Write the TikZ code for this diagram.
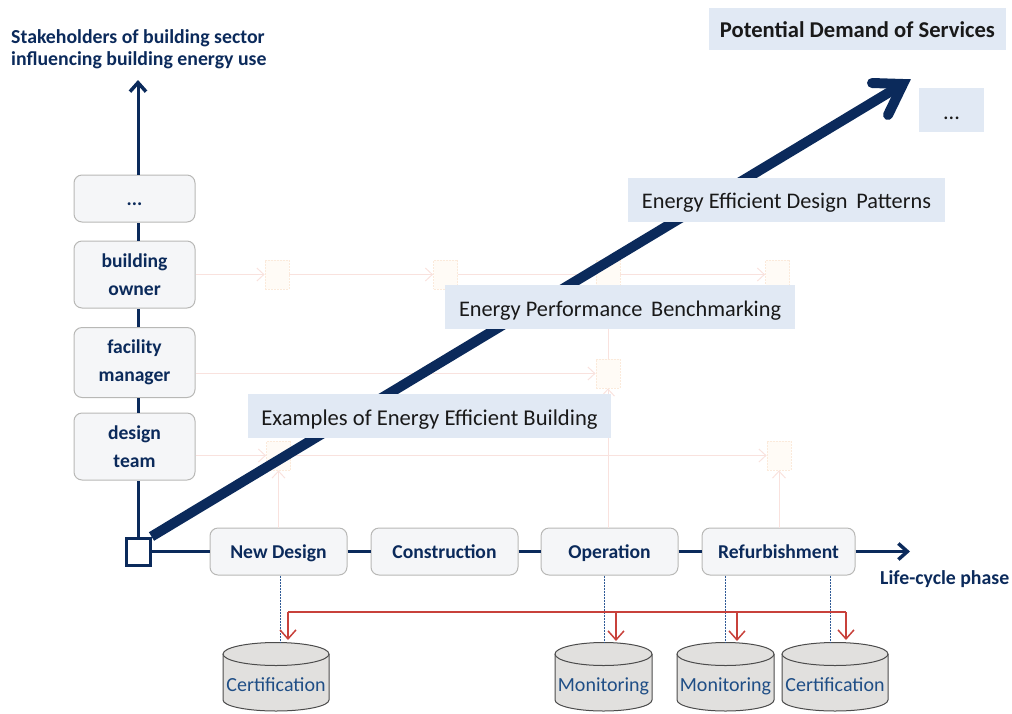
\documentclass[tikz,border=0pt]{standalone}
\usepackage{fontspec}
\setmainfont{Carlito}
\usetikzlibrary{arrows.meta,calc}
\definecolor{navy}{HTML}{0B2A5B}
\definecolor{boxfill}{HTML}{F5F6F8}
\definecolor{boxline}{HTML}{B8B8B6}
\definecolor{bandfill}{HTML}{E1E9F4}
\definecolor{faintline}{HTML}{F9E2DE}
\definecolor{faintfill}{HTML}{FFFBF6}
\definecolor{faintedge}{HTML}{FBEADB}
\definecolor{redline}{HTML}{C8413B}
\definecolor{dotblue}{HTML}{2F5A96}
\definecolor{cylfill}{HTML}{E1E0DE}
\definecolor{cyltext}{HTML}{1F4E86}
\tikzset{
  x=1pt,y=-1pt,
  roundbox/.style={draw=boxline,line width=1pt,fill=boxfill,rounded corners=8pt,inner sep=0pt,
    text=navy,font=\fontsize{19.6}{28}\selectfont\bfseries,align=center},
  oneline/.style={text height=16pt,text depth=3pt},
  band/.style={fill=bandfill,inner sep=0pt,text=black!90,font=\fontsize{22.3}{26}\selectfont,text height=20pt,text depth=2pt},
  faintsq/.style={draw=faintedge,fill=faintfill,line width=.8pt,dash pattern=on 2pt off 1pt,minimum width=24pt,minimum height=29pt,inner sep=0pt},
  faint/.style={draw=faintline,line width=1pt},
  faintarrow/.style={faint,-{Straight Barb[length=7pt,width=13pt]}},
  axis/.style={draw=navy,line width=3pt},
  axisarrow/.style={axis,-{Straight Barb[length=9pt,width=16pt,line width=3.5pt]}},
  title/.style={text=navy,font=\fontsize{19.8}{22}\selectfont\bfseries,inner sep=0pt,align=left},
  cyl/.style={draw=black!70,fill=cylfill,line width=1pt},
  cyllabel/.style={inner sep=0pt,text=cyltext,font=\fontsize{20}{25}\selectfont,text height=16pt,text depth=2pt},
  dotlink/.style={draw=dotblue,line width=.8pt,dash pattern=on 2pt off 1pt},
  redbus/.style={draw=redline,line width=1.5pt},
  redarrow/.style={redbus,-{Straight Barb[length=9pt,width=16pt]}}
}
\newcommand{\dbcyl}[5]{% name, left, right, top, text
  \draw[cyl] (#2,654) -- (#2,700) arc[start angle=180,end angle=360,x radius={(#3-#2)/2*1pt},y radius=11pt] -- (#3,654);
  \draw[cyl] ({(#2+#3)/2},654) ellipse[x radius={(#3-#2)/2*1pt},y radius=11.5pt];
  \node[cyllabel] (#1) at ({(#2+#3)/2},684) {#5};
}
\begin{document}
\begin{tikzpicture}
\useasboundingbox (0,0) rectangle (1012,713);
% faint squares
\node[faintsq] (s1) at (277,274.5) {};
\node[faintsq] (s2) at (445.5,274.5) {};
\node[faintsq] (s3) at (608,274.5) {};
\node[faintsq] (s4) at (777.5,274.5) {};
\node[faintsq] (s5) at (608,373.5) {};
\node[faintsq] (s6) at (278.5,455.5) {};
\node[faintsq] (s7) at (779,455.5) {};
% stakeholder boxes and phase boxes
\node[roundbox,oneline,minimum width=121pt,minimum height=47pt] (more) at (134.5,198.5) {...};
\node[roundbox,minimum width=121pt,minimum height=67pt] (owner) at (134.5,274.5) {building\\owner};
\node[roundbox,minimum width=121pt,minimum height=70pt] (fm) at (134.5,362.5) {facility\\manager};
\node[roundbox,minimum width=121pt,minimum height=67pt] (team) at (134.5,446.5) {design\\team};
\node[roundbox,oneline,minimum width=137pt,minimum height=47pt] (nd) at (278.5,551.5) {New Design};
\node[roundbox,oneline,minimum width=147pt,minimum height=47pt] (con) at (444.5,551.5) {Construction};
\node[roundbox,oneline,minimum width=137pt,minimum height=47pt] (op) at (609.5,551.5) {Operation};
\node[roundbox,oneline,minimum width=153pt,minimum height=47pt] (ref) at (778.5,551.5) {Refurbishment};
% faint links
\draw[faintarrow] (owner.east |- s1) -- (s1.west);
\draw[faintarrow] (s1.east) -- (s2.west);
\draw[faint] (s2.east) -- (s3.west);
\draw[faintarrow] (s3.east) -- (s4.west);
\draw[faintarrow] (fm.east |- s5) -- (s5.west);
\draw[faintarrow] (team.east |- s6) -- (s6.west);
\draw[faintarrow] (s6.east) -- (s7.west);
\draw[faintarrow] (nd.north -| s6) -- (s6.south);
\draw[faintarrow] (op.north -| s5) -- (s5.south);
\draw[faint] (s5.north) -- (s3.south);
\draw[faintarrow] (ref.north -| s7) -- (s7.south);
% axes
\node[draw=navy,line width=3pt,fill=white,minimum width=24pt,minimum height=27pt,inner sep=0pt] (origin) at (138,551.5) {};
\coordinate (ytip) at (138,80);
\coordinate (xtip) at (910,551.5);
\coordinate (bigtip) at (903,84);
\coordinate (armA) at (872,83);
\coordinate (armB) at (888,115);
\draw[axis] (origin.north) -- (team.south -| origin);
\draw[axis] (team.north -| origin) -- (fm.south -| origin);
\draw[axis] (fm.north -| origin) -- (owner.south -| origin);
\draw[axis] (owner.north -| origin) -- (more.south -| origin);
\draw[axisarrow] (more.north -| origin) -- (ytip);
\draw[axis] (origin.east) -- (nd.west);
\draw[axis] (nd.east) -- (con.west);
\draw[axis] (con.east) -- (op.west);
\draw[axis] (op.east) -- (ref.west);
\draw[axisarrow] (ref.east) -- (xtip);
% big arrow
\draw[draw=navy,line width=10pt] (origin.north east) -- (bigtip);
\draw[draw=navy,line width=10pt,line cap=round,line join=miter] (armA) -- (bigtip) -- (armB);
% bands
\node[band,minimum width=363pt,minimum height=44pt,font=\fontsize{22.6}{26}\selectfont] (b1) at (429.5,416) {Examples of Energy Efficient Building};
\node[band,minimum width=350pt,minimum height=44pt] (b2) at (620,307) {Energy Performance\, Benchmarking};
\node[band,minimum width=317pt,minimum height=44pt,text height=18pt] (b3) at (786.5,200) {Energy Efficient Design\, Patterns};
\node[band,minimum width=297pt,minimum height=42pt,text height=18pt,font=\fontsize{22.6}{26}\selectfont\bfseries] (b4) at (857.5,29) {Potential Demand of Services};
\node[band,minimum width=65pt,minimum height=44pt] (b5) at (951.5,110) {...};
% titles
\node[title,anchor=north west] (stake) at (11,29) {Stakeholders of building sector\\influencing building energy use};
\node[title,anchor=west] (life) at (880,579) {Life-cycle phase};
% cylinders
\dbcyl{c1}{223}{329}{642}{Certification}
\dbcyl{c2}{555}{652}{642}{Monitoring}
\dbcyl{c3}{677}{774}{642}{Monitoring}
\dbcyl{c4}{782}{888}{642}{Certification}
% links to cylinders
\coordinate (t1) at (280,642.5);
\coordinate (t2) at (604,642.5);
\coordinate (t3) at (725,642.5);
\coordinate (t4) at (830,642.5);
\draw[dotlink] (nd.south -| t1) -- (t1);
\draw[dotlink] (op.south -| t2) -- (t2);
\draw[dotlink] (ref.south -| t3) -- (t3);
\draw[dotlink] (ref.south -| t4) -- (t4);
\coordinate (r1) at (288,640);
\coordinate (r2) at (616,641);
\coordinate (r3) at (737,641);
\coordinate (r4) at (846,640);
\coordinate (busl) at (288,612);
\coordinate (busr) at (846,612);
\draw[redbus] (busl) -- (busr);
\draw[redarrow] (busl) -- (r1);
\draw[redarrow] (busl -| r2) -- (r2);
\draw[redarrow] (busl -| r3) -- (r3);
\draw[redarrow] (busr) -- (r4);
\end{tikzpicture}
\end{document}
